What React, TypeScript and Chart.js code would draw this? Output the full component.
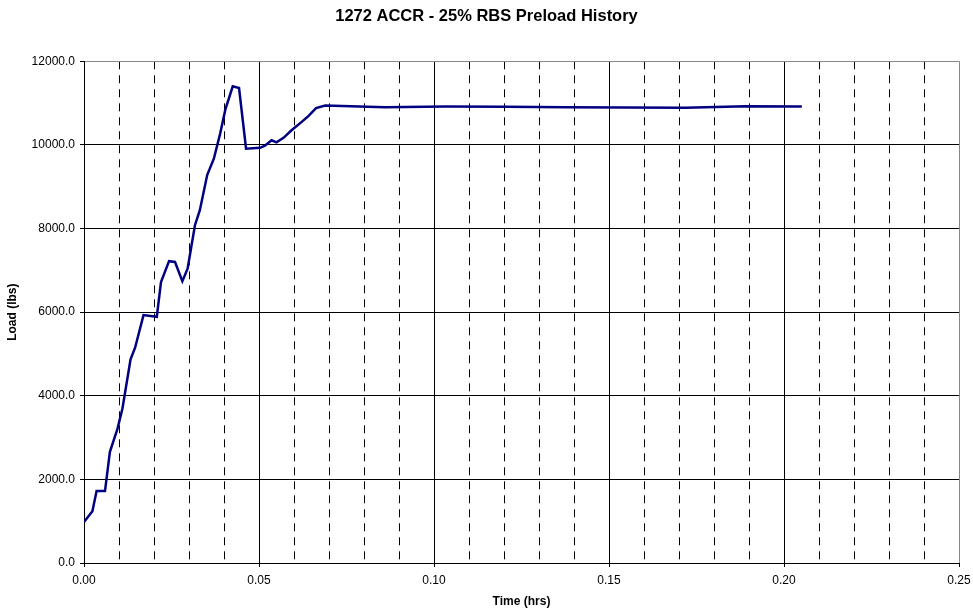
import React, { useEffect, useRef } from "react";
import { Chart, registerables } from "chart.js";

Chart.register(...registerables);

const TITLE = "1272 ACCR - 25% RBS Preload History";
const X_TITLE = "Time (hrs)";
const Y_TITLE = "Load (lbs)";

const timeHrs = [
  0, 0.0024, 0.0036, 0.006, 0.0074, 0.0096, 0.011, 0.0133, 0.0146, 0.017,
  0.0208, 0.022, 0.0243, 0.026, 0.0281, 0.0296, 0.0317, 0.0331, 0.0352, 0.0371,
  0.0389, 0.0404, 0.0425, 0.0443, 0.0463, 0.0503, 0.0517, 0.0536, 0.055, 0.057,
  0.0593, 0.0622, 0.0641, 0.0663, 0.0689, 0.086, 0.1033, 0.1205, 0.1376, 0.1547,
  0.1718, 0.189, 0.2051,
];
const loadLbs = [
  980, 1240, 1720, 1720, 2660, 3220, 3700, 4870, 5150, 5930,
  5890, 6720, 7220, 7200, 6740, 7040, 8080, 8440, 9280, 9670,
  10270, 10850, 11400, 11360, 9910, 9930, 9980, 10110, 10060, 10170,
  10350, 10550, 10690, 10880, 10940, 10900, 10920, 10915, 10900, 10895,
  10890, 10925, 10920,
];

const xMajorTicks = [0, 0.05, 0.1, 0.15, 0.2, 0.25];
const xMinorTicks = [
  0, 0.01, 0.02, 0.03, 0.04, 0.05, 0.06, 0.07, 0.08, 0.09, 0.1, 0.11, 0.12,
  0.13, 0.14, 0.15, 0.16, 0.17, 0.18, 0.19, 0.2, 0.21, 0.22, 0.23, 0.24, 0.25,
];
const yTicks = [0, 2000, 4000, 6000, 8000, 10000, 12000];

const FONT = "'Liberation Sans', Arial, Helvetica, sans-serif";

export default function App() {
  const ref = useRef<HTMLCanvasElement | null>(null);

  useEffect(() => {
    if (!ref.current) return;
    Chart.defaults.font.family = FONT;
    const isMajor = (v: number) => Math.round(v * 100) % 5 === 0;
    const chart = new Chart(ref.current, {
      type: "line",
      data: {
        datasets: [
          {
            data: timeHrs.map((t, i) => ({ x: t, y: loadLbs[i] })),
            borderColor: "#000080",
            borderWidth: 2.5,
            pointRadius: 0,
            tension: 0,
            fill: false,
          },
        ],
      },
      options: {
        animation: false,
        responsive: true,
        maintainAspectRatio: false,
        layout: { padding: { left: 0, right: 0, top: 0, bottom: 0 } },
        plugins: {
          legend: { display: false },
          tooltip: { enabled: false },
          title: {
            display: true,
            text: TITLE,
            color: "#000",
            font: { size: 16.5, weight: "bold", family: FONT },
            padding: { top: 7, bottom: 34.5 },
          },
        },
        scales: {
          xMinor: {
            type: "linear",
            position: "bottom",
            min: 0,
            max: 0.25,
            afterBuildTicks: (s: any) => {
              s.ticks = xMinorTicks.map((v) => ({ value: v }));
            },
            afterFit: (s: any) => {
              s.height = 0;
              s.paddingLeft = 0;
              s.paddingRight = 0;
            },
            ticks: { display: false },
            grid: {
              drawTicks: false,
              color: (ctx: any) =>
                isMajor(ctx.tick?.value ?? 0) ? "rgba(0,0,0,0)" : "#000",
              lineWidth: 1,
            },
            border: { display: false, dash: [8, 6] },
          },
          x: {
            type: "linear",
            position: "bottom",
            min: 0,
            max: 0.25,
            afterBuildTicks: (s: any) => {
              s.ticks = xMajorTicks.map((v) => ({ value: v }));
            },
            afterFit: (s: any) => {
              s.height = 50;
              s.paddingLeft = 0;
              s.paddingRight = 14;
            },
            ticks: {
              color: "#000",
              font: { size: 12, family: FONT },
              padding: 6,
              maxRotation: 0,
              autoSkip: false,
              callback: (v: any) => Number(v).toFixed(2),
            },
            grid: {
              color: (ctx: any) =>
                Math.abs((ctx.tick?.value ?? 0) - 0.25) < 1e-9 ? "#888" : "#000",
              tickColor: "#000",
              tickLength: 4,
              lineWidth: 1,
            },
            border: { display: true, color: "#000", width: 1 },
            title: {
              display: true,
              text: X_TITLE,
              color: "#000",
              font: { size: 12, weight: "bold", family: FONT },
              padding: { top: 0, bottom: 4 },
            },
          },
          y: {
            type: "linear",
            position: "left",
            min: 0,
            max: 12000,
            afterBuildTicks: (s: any) => {
              s.ticks = yTicks.map((v) => ({ value: v }));
            },
            afterFit: (s: any) => {
              s.width = 84;
            },
            ticks: {
              color: "#000",
              font: { size: 12, family: FONT },
              padding: 5,
              autoSkip: false,
              callback: (v: any) => Number(v).toFixed(1),
            },
            grid: {
              color: (ctx: any) =>
                (ctx.tick?.value ?? 0) === 12000 ? "#888" : "#000",
              tickColor: "#000",
              tickLength: 4,
              lineWidth: 1,
            },
            border: { display: true, color: "#000", width: 1 },
            title: {
              display: true,
              text: Y_TITLE,
              color: "#000",
              font: { size: 12, weight: "bold", family: FONT },
              padding: { top: 5, bottom: 0 },
            },
          },
        },
      },
    });
    return () => chart.destroy();
  }, []);

  return (
    <div
      style={{
        position: "absolute",
        left: 0,
        top: 0,
        width: 973,
        height: 613,
        background: "#fff",
      }}
    >
      <canvas ref={ref} />
    </div>
  );
}
